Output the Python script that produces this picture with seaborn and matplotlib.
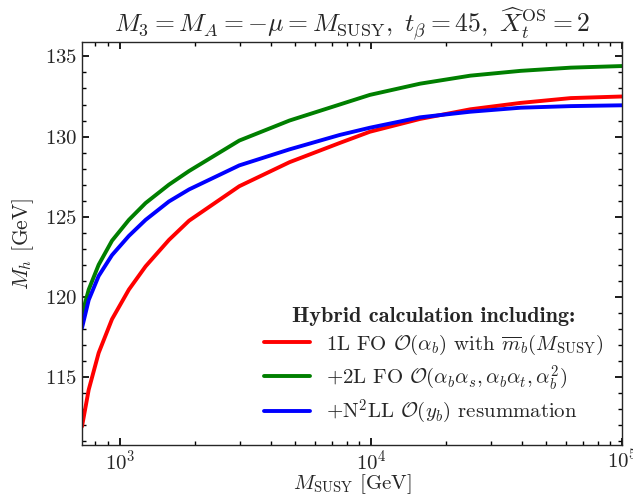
import numpy as np
import pandas as pd
import matplotlib
matplotlib.use('Agg')
import matplotlib.pyplot as plt
from matplotlib.font_manager import FontProperties
from matplotlib.ticker import MultipleLocator
import seaborn as sns

# values
msusy = [707, 752, 824, 931, 1087, 1267, 1570, 1888, 2992, 4742, 7516, 9908,
         15700, 24890, 39450, 62520, 100000]
mh_1l = [111.9, 114.2, 116.5, 118.6, 120.45, 121.9, 123.55, 124.75, 126.9, 128.4, 129.6, 130.3,
         131.1, 131.7, 132.1, 132.4, 132.5]
mh_2l = [118.9, 120.45, 122.0, 123.5, 124.8, 125.85, 127.0, 127.85, 129.75, 131.0, 132.0, 132.6,
         133.3, 133.8, 134.1, 134.3, 134.4]
mh_resum = [118.05, 119.8, 121.3, 122.6, 123.8, 124.8, 125.95, 126.7, 128.2, 129.2, 130.1, 130.55,
            131.2, 131.55, 131.8, 131.9, 131.95]

labels = [r'1L FO $\mathcal{O}(\alpha_b)$ with $\overline{m}_b(M_\mathrm{SUSY})$',
          r'+2L FO $\mathcal{O}(\alpha_b\alpha_s, \alpha_b\alpha_t, \alpha_b^2)$',
          r'+N$^2$LL $\mathcal{O}(y_b)$ resummation']
colors = ['#ff0000', '#007f00', '#0000ff']

df = pd.concat([
    pd.DataFrame({'MSUSY': msusy, 'Mh': vals, 'curve': lab})
    for vals, lab in zip([mh_1l, mh_2l, mh_resum], labels)
])

sns.set_theme(style='ticks')
plt.rcParams.update({
    'font.family': 'serif',
    'font.serif': ['cmr10'],
    'mathtext.fontset': 'cm',
    'axes.formatter.use_mathtext': True,
    'axes.unicode_minus': False,
    'font.size': 15,
    'xtick.direction': 'in', 'ytick.direction': 'in',
    'xtick.top': True, 'ytick.right': True,
    'xtick.major.size': 5, 'ytick.major.size': 5,
    'xtick.minor.size': 3, 'ytick.minor.size': 3,
    'xtick.labelsize': 15, 'ytick.labelsize': 15,
    'axes.linewidth': 1.0,
})

fig = plt.figure(figsize=(6.33, 4.96), dpi=100)
ax = fig.add_axes([0.1295, 0.1028, 0.8531, 0.8125])

sns.lineplot(data=df, x='MSUSY', y='Mh', hue='curve', palette=colors,
             linewidth=2.8, ax=ax, legend=True)

ax.set_xscale('log')
ax.set_xlim(707, 1e5)
ax.set_ylim(110.75, 135.9)
ax.yaxis.set_major_locator(MultipleLocator(5))
ax.yaxis.set_minor_locator(MultipleLocator(1))
ax.tick_params(which='both', top=True, right=True, color='black')
ax.tick_params(axis='x', which='major', pad=3)

ax.set_xlabel(r'$M_\mathrm{SUSY}$ [GeV]', fontsize=15, labelpad=-1)
ax.set_ylabel(r'$M_h$ [GeV]', fontsize=15.5, labelpad=6)
ax.set_title(r'$M_3 = M_A = -\mu = M_\mathrm{SUSY},\ t_\beta = 45,\ \widehat{X}_t^\mathrm{OS} = 2$',
             fontsize=18.5, pad=4)

leg = ax.legend(loc='lower right', bbox_to_anchor=(1.0, 0.0), frameon=False,
                title='Hybrid calculation including:',
                title_fontproperties=FontProperties(family='cmb10', size=16),
                fontsize=15, handlelength=2.2, handletextpad=0.75, labelspacing=0.3)

fig.savefig('out.png', dpi=100)
